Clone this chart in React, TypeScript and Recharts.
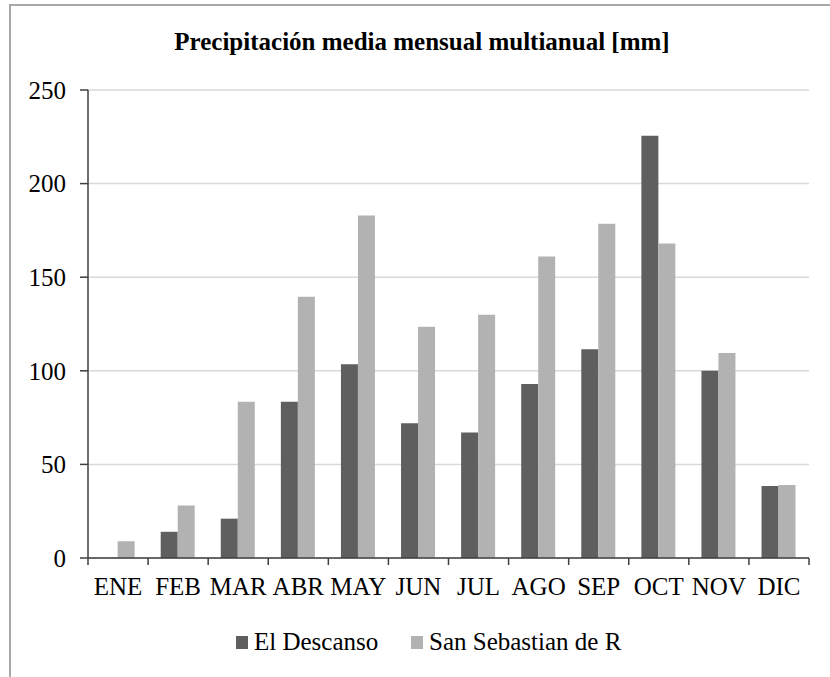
import { BarChart, Bar, XAxis, YAxis, CartesianGrid, Legend } from 'recharts';

const months = ['ENE', 'FEB', 'MAR', 'ABR', 'MAY', 'JUN', 'JUL', 'AGO', 'SEP', 'OCT', 'NOV', 'DIC'];
const elDescanso = [0, 14, 21, 83.5, 103.5, 72, 67, 93, 111.5, 225.5, 100, 38.5];
const sanSebastian = [9, 28, 83.5, 139.5, 183, 123.5, 130, 161, 178.5, 168, 109.5, 39];
const yTicks = [0, 50, 100, 150, 200, 250];

const TITLE = 'Precipitación media mensual multianual [mm]';
const SERIES = [
  { key: 'elDescanso', name: 'El Descanso', color: '#5f5f5f' },
  { key: 'sanSebastian', name: 'San Sebastian de R', color: '#b2b2b2' },
];

const FONT = 'Liberation Serif, Times New Roman, serif';
const AXIS_COLOR = '#3f3f3f';
const PLOT_BOTTOM = 558;

const data = months.map((m, i) => ({
  month: m,
  elDescanso: elDescanso[i],
  sanSebastian: sanSebastian[i],
}));

// Excel-style: tick marks sit between categories, label centred
function MonthTick(props: any) {
  const { x, y, payload, index, visibleTicksCount } = props;
  const half = payload?.offset ?? 30;
  const last = index === (visibleTicksCount ?? months.length) - 1;
  return (
    <g>
      <line x1={x - half} x2={x - half} y1={PLOT_BOTTOM} y2={PLOT_BOTTOM + 7} stroke={AXIS_COLOR} strokeWidth={1.5} />
      {last && (
        <line x1={x + half} x2={x + half} y1={PLOT_BOTTOM} y2={PLOT_BOTTOM + 7} stroke={AXIS_COLOR} strokeWidth={1.5} />
      )}
      <text x={x} y={y + 28} textAnchor="middle" fontSize={25} fontFamily={FONT} fill="#000">
        {payload.value}
      </text>
    </g>
  );
}

// legend drawn as svg so it uses the same serif face as the axes
function LegendContent() {
  return (
    <svg width={420} height={28} style={{ display: 'block' }}>
      <rect x={0} y={8} width={12} height={13} fill={SERIES[0].color} />
      <text x={18} y={22.4} fontSize={25} fontFamily={FONT} fill="#000">{SERIES[0].name}</text>
      <rect x={175} y={8} width={12} height={13} fill={SERIES[1].color} />
      <text x={193} y={22.4} fontSize={25} fontFamily={FONT} fill="#000">{SERIES[1].name}</text>
    </svg>
  );
}

export default function App() {
  return (
    <div style={{ position: 'absolute', top: 0, left: 0, width: 830, height: 677, background: '#fff', overflow: 'hidden' }}>
      {/* chart frame (cut off at right/bottom) */}
      <div
        style={{
          position: 'absolute',
          left: 9,
          top: 4,
          width: 900,
          height: 800,
          borderTop: '2px solid #a8a8a8',
          borderLeft: '2px solid #a8a8a8',
        }}
      />
      <svg width={830} height={70} style={{ position: 'absolute', left: 0, top: 0 }}>
        <text x={422} y={50} textAnchor="middle" fontSize={25} fontWeight="bold" fontFamily={FONT} fill="#000">
          {TITLE}
        </text>
      </svg>
      <div style={{ position: 'absolute', left: 0, top: 0 }}>
        <BarChart
          width={830}
          height={677}
          data={data}
          margin={{ top: 90, right: 21, bottom: 89, left: 28 }}
          barCategoryGap="21%"
          barGap={0}
        >
          <CartesianGrid vertical={false} stroke="#d9d9d9" strokeWidth={1.5} />
          <XAxis
            dataKey="month"
            height={30}
            axisLine={{ stroke: AXIS_COLOR, strokeWidth: 1.5 }}
            tickLine={false}
            tickSize={7}
            tickMargin={2}
            interval={0}
            tick={<MonthTick />}
          />
          <YAxis
            width={60}
            domain={[0, 250]}
            ticks={yTicks}
            interval={0}
            axisLine={{ stroke: AXIS_COLOR, strokeWidth: 1.5 }}
            tickLine={{ stroke: AXIS_COLOR, strokeWidth: 1.5 }}
            tickSize={8}
            tickMargin={14}
            tick={{ fontSize: 25, fontFamily: FONT, fill: '#000' }}
          />
          <Legend
            layout="horizontal"
            verticalAlign="middle"
            align="center"
            content={<LegendContent />}
            wrapperStyle={{ top: 627.6, left: 236, width: 420 }}
          />
          {SERIES.map((s) => (
            <Bar key={s.key} dataKey={s.key} name={s.name} fill={s.color} isAnimationActive={false} />
          ))}
        </BarChart>
      </div>
    </div>
  );
}
